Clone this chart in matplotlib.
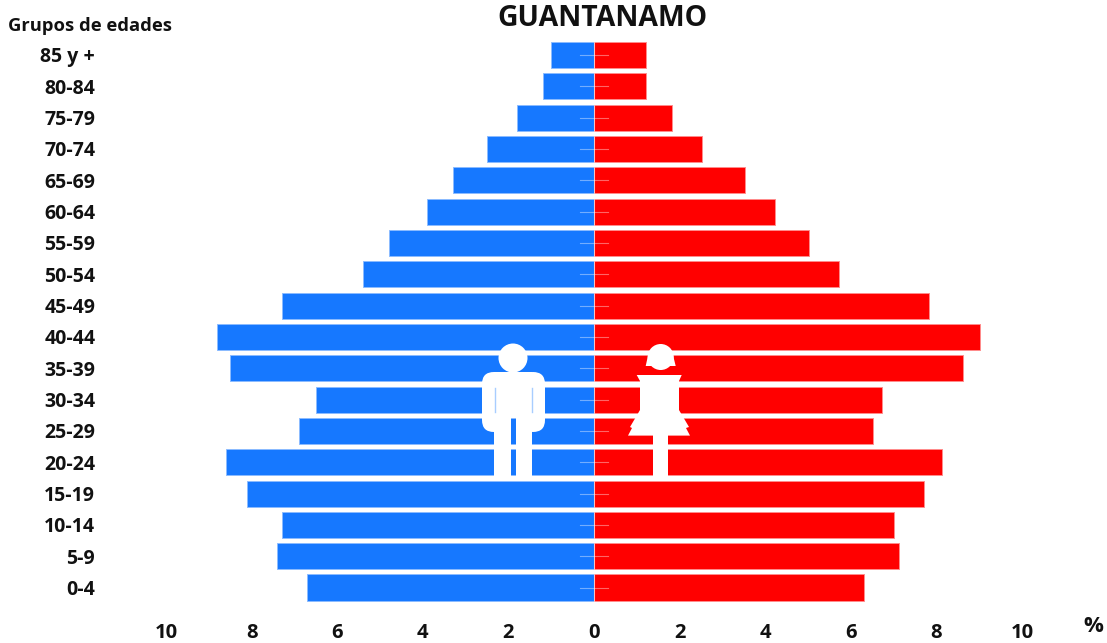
import matplotlib
matplotlib.use("Agg")
import matplotlib.pyplot as plt
from matplotlib.patches import Circle, FancyBboxPatch, Polygon, Rectangle

plt.rcParams["font.family"] = ["Open Sans", "DejaVu Sans"]

# Piramide de poblacion, de abajo hacia arriba
grupos = ["0-4", "5-9", "10-14", "15-19", "20-24", "25-29", "30-34", "35-39", "40-44",
          "45-49", "50-54", "55-59", "60-64", "65-69", "70-74", "75-79", "80-84", "85 y +"]
hombres = [6.7, 7.4, 7.3, 8.1, 8.6, 6.9, 6.5, 8.5, 8.8, 7.3, 5.4, 4.8, 3.9, 3.3, 2.5, 1.8, 1.2, 1.0]
mujeres = [6.32, 7.12, 7.02, 7.72, 8.12, 6.52, 6.72, 8.62, 9.02, 7.82, 5.72, 5.02, 4.22, 3.52, 2.52, 1.82, 1.22, 1.22]
marcas_x = [-10, -8, -6, -4, -2, 0, 2, 4, 6, 8, 10]

W, H = 1107, 643
AZUL = "#1678ff"
ROJO = "#ff0000"
NEGRO = "#111111"

fig = plt.figure(figsize=(W / 100, H / 100), dpi=100)

# Ejes colocados en pixeles: x de 166 a 1022, y de 610 a 32
izq, der, arriba, abajo = 166, 1022, 32, 610
ax = fig.add_axes([izq / W, 1 - abajo / H, (der - izq) / W, (abajo - arriba) / H])

pos = list(range(len(grupos)))
ax.barh(pos, [-v for v in hombres], height=0.83, color=AZUL, edgecolor="#8cbcff", linewidth=0.7)
ax.barh(pos, mujeres, height=0.83, color=ROJO, edgecolor="#ff8c8c", linewidth=0.7)

# Linea central y marcas palidas sobre las barras
ax.axvline(0, color="white", alpha=0.45, lw=0.8)
for p in pos:
    ax.plot([-0.33, 0.33], [p, p], color="white", alpha=0.4, lw=0.8)

ax.set_xlim(-10, 10)
paso = 31.33
ax.set_ylim((587.5 - abajo) / paso, (587.5 - arriba) / paso)
ax.set_xticks(marcas_x)
ax.set_xticklabels([str(abs(m)) for m in marcas_x], fontsize=14.5, fontweight="bold", color=NEGRO)
ax.set_yticks(pos)
ax.set_yticklabels(grupos, fontsize=14, fontweight="bold", ha="right", color=NEGRO)
ax.tick_params(axis="y", length=0, pad=51)
ax.tick_params(axis="x", length=0, pad=9)
for s in ax.spines.values():
    s.set_visible(False)

# Capa en pixeles para las siluetas y los textos sueltos
capa = fig.add_axes([0, 0, 1, 1])
capa.set_xlim(0, W)
capa.set_ylim(H, 0)
capa.axis("off")
capa.patch.set_alpha(0)

# Hombre
capa.add_patch(Circle((513, 358), 14.5, color="white", lw=0))
for x0 in (494, 533):
    capa.add_patch(FancyBboxPatch((x0, 384), 0, 36, boxstyle="round,pad=12,rounding_size=12",
                                  fc="white", ec="none"))
capa.add_patch(Rectangle((494, 372), 38, 46, fc="white", ec="none"))
capa.add_patch(Rectangle((494, 418), 17, 59, fc="white", ec="none"))
capa.add_patch(Rectangle((516, 418), 16, 59, fc="white", ec="none"))
capa.plot([494.5, 494.5], [388, 412], color="#a8cdff", lw=1)
capa.plot([531.5, 531.5], [388, 412], color="#a8cdff", lw=1)

# Mujer
capa.add_patch(Circle((660.7, 357), 13, color="white", lw=0))
capa.add_patch(Polygon([(649, 351), (672, 351), (675.7, 366), (645.7, 366)], fc="white", ec="none"))
capa.add_patch(Polygon([(636.7, 375), (681.7, 375), (679, 381), (679, 410), (689, 427), (686, 428),
                        (690, 435.6), (628, 435.6), (632, 428), (630, 427), (640, 410), (640, 381)],
                       fc="white", ec="none"))
capa.add_patch(Rectangle((653, 435), 14.7, 42, fc="white", ec="none"))

capa.text(602, 18, "GUANTANAMO", fontsize=20.4, fontweight="bold", ha="center", va="center", color=NEGRO)
capa.text(90.5, 26, "Grupos de edades", fontsize=13.2, fontweight="bold", ha="center", va="center", color=NEGRO)
capa.text(1093, 627, "%", fontsize=16, fontweight="bold", ha="center", va="center", color=NEGRO)

fig.savefig("out.png", dpi=100)
